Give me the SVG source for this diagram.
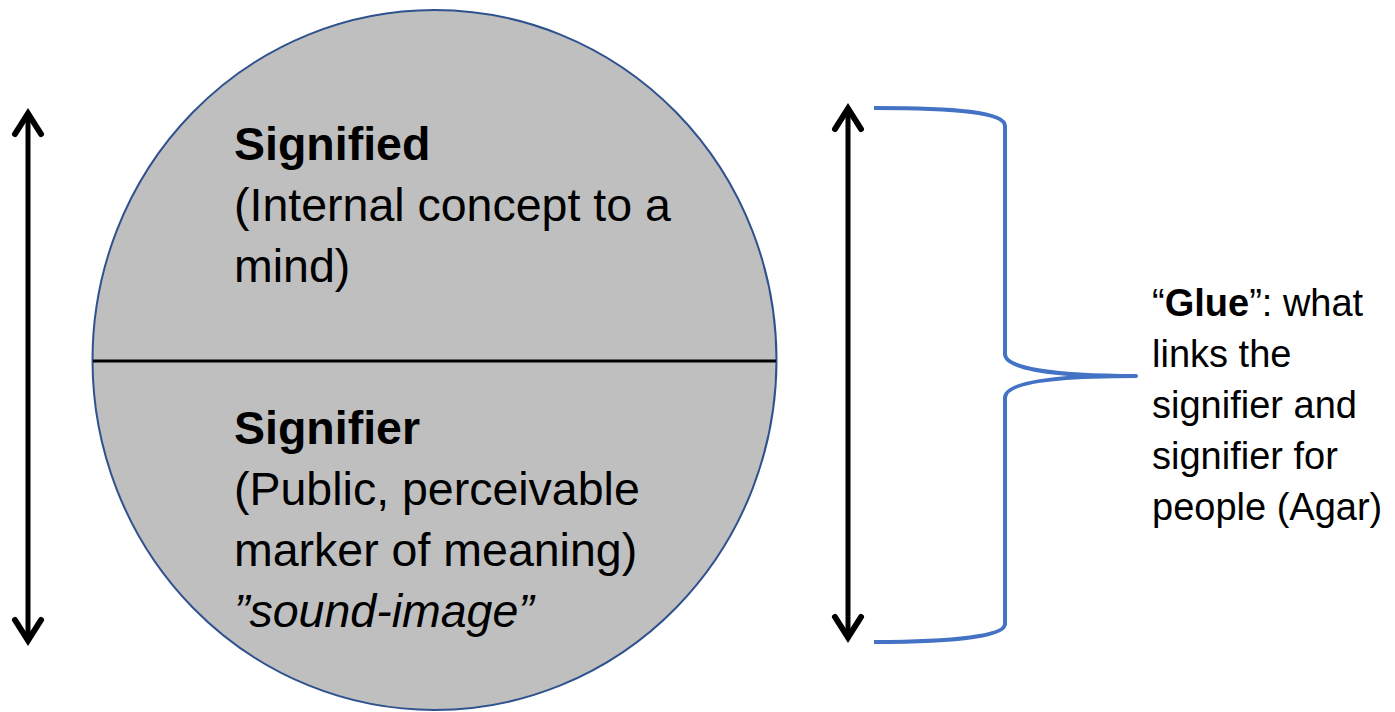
<svg xmlns="http://www.w3.org/2000/svg" width="1395" height="712" viewBox="0 0 1395 712">
<style>
.t{font-family:"Liberation Sans",Arial,sans-serif;fill:#000}
.m{font-size:46.5px}
.b{font-weight:bold}
.r{font-size:38px}
.ar{stroke:#000;stroke-width:5;fill:none}
.brace{stroke:#4472C4;stroke-width:4;fill:none;stroke-linejoin:round}
</style>
<defs>
<marker id="head" markerUnits="userSpaceOnUse" viewBox="-30 -20 40 40" markerWidth="40" markerHeight="40" refX="0" refY="0" orient="auto-start-reverse" overflow="visible">
<path d="M -22 -13 L -1.5 0 L -22 13" fill="none" stroke="#000" stroke-width="6" stroke-linecap="round" stroke-linejoin="miter"/>
</marker>
</defs>
<rect width="1395" height="712" fill="#fff"/>
<g id="sign">
<ellipse cx="434.5" cy="360" rx="342" ry="350" fill="#BFBFBF" stroke="#2F528F" stroke-width="2"/>
<line x1="93" y1="361" x2="776" y2="361" stroke="#000" stroke-width="3"/>
</g>
<g id="signified">
<text class="t m b" x="234" y="160" font-size="43">Signified</text>
<text class="t m" x="234" y="221">(Internal concept to a</text>
<text class="t m" x="234" y="282">mind)</text>
</g>
<g id="signifier">
<text class="t m b" x="234" y="444" font-size="43">Signifier</text>
<text class="t m" x="234" y="505">(Public, perceivable</text>
<text class="t m" x="234" y="566">marker of meaning)</text>
<text class="t m" x="234" y="627" font-style="italic">”sound-image”</text>
</g>
<g id="glue">
<text class="t r" x="1152" y="316">“<tspan class="b">Glue</tspan>”: what</text>
<text class="t r" x="1152" y="367">links the</text>
<text class="t r" x="1152" y="418">signifier and</text>
<text class="t r" x="1152" y="469">signifier for</text>
<text class="t r" x="1152" y="520">people (Agar)</text>
</g>
<g id="connectors">
<line class="ar" x1="28" y1="112" x2="28" y2="642" marker-start="url(#head)" marker-end="url(#head)"/>
<line class="ar" x1="848" y1="107" x2="848" y2="639" marker-start="url(#head)" marker-end="url(#head)"/>
<path class="brace" d="M 874 108 C 955 108 1005 112 1005 126 L 1005 354 C 1005 368 1050 376 1136 376 C 1050 376 1005 383 1005 398 L 1005 624 C 1005 636 955 642 874 642"/>
</g>
</svg>
